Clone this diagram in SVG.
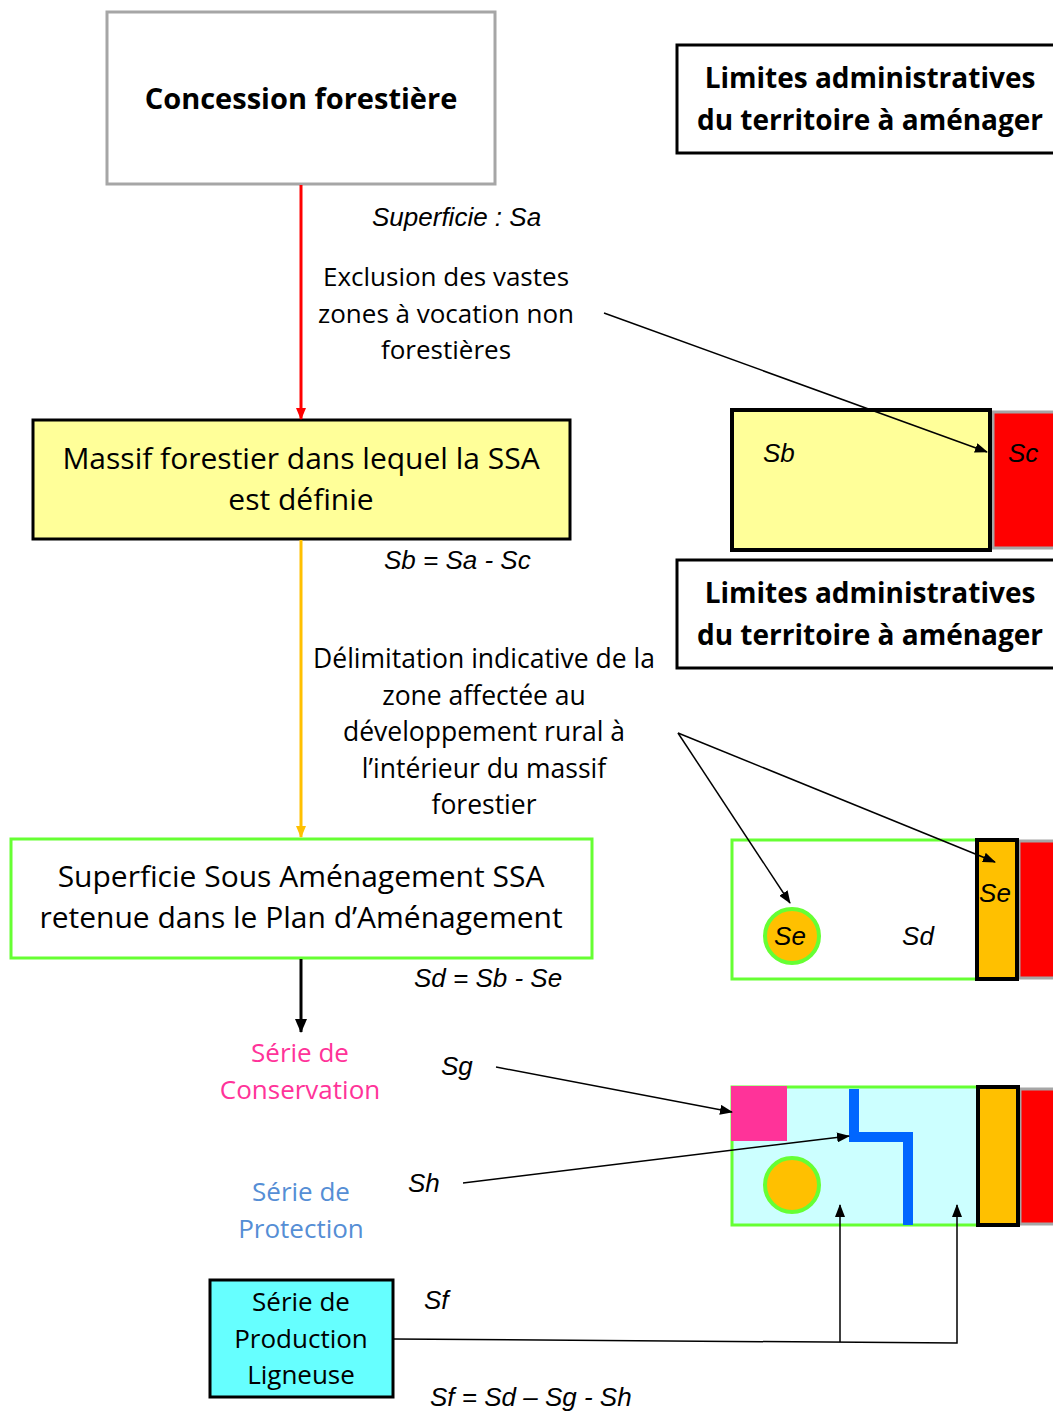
<svg xmlns="http://www.w3.org/2000/svg" width="1053" height="1411" viewBox="0 0 1053 1411">
<defs>
<style>
.t{font-family:"Open Sans","Noto Sans",sans-serif;text-anchor:middle;fill:#000}
.b{font-weight:bold}
.i{font-family:"Liberation Sans",Arial,sans-serif;font-style:italic;font-size:26px;fill:#000}
.ln{stroke:#000;stroke-width:1.5;fill:none}
</style>
<marker id="ah" markerWidth="13" markerHeight="10" refX="12" refY="5" orient="auto" markerUnits="userSpaceOnUse"><path d="M0,0 L13,5 L0,10 z" fill="#000"/></marker>
<marker id="ar" markerWidth="12" markerHeight="10" refX="11" refY="5" orient="auto" markerUnits="userSpaceOnUse"><path d="M0,0 L12,5 L0,10 z" fill="#FF0000"/></marker>
<marker id="ao" markerWidth="12" markerHeight="10" refX="11" refY="5" orient="auto" markerUnits="userSpaceOnUse"><path d="M0,0 L12,5 L0,10 z" fill="#FFC000"/></marker>
<marker id="ab" markerWidth="14" markerHeight="12" refX="13" refY="6" orient="auto" markerUnits="userSpaceOnUse"><path d="M0,0 L14,6 L0,12 z" fill="#000"/></marker>
</defs>

<g id="concession">
<rect x="107" y="12" width="388" height="172" fill="#fff" stroke="#A6A6A6" stroke-width="3"/>
<text class="t b" x="301" y="109" font-size="29">Concession forestière</text>
</g>

<g id="limites1">
<rect x="677" y="45" width="380" height="108" fill="#fff" stroke="#000" stroke-width="3"/>
<text class="t b" x="870" y="88" font-size="28">Limites administratives</text>
<text class="t b" x="870" y="130" font-size="28">du territoire à aménager</text>
</g>

<g id="label-exclusion">
<text class="i" x="372" y="226">Superficie : Sa</text>
<text class="t" x="446" y="286" font-size="26">Exclusion des vastes</text>
<text class="t" x="446" y="323" font-size="26">zones à vocation non</text>
<text class="t" x="446" y="359" font-size="26">forestières</text>
</g>

<g id="massif">
<rect x="33" y="420" width="537" height="119" fill="#FFFF99" stroke="#000" stroke-width="3"/>
<text class="t" x="301" y="469" font-size="30">Massif forestier dans lequel la SSA</text>
<text class="t" x="301" y="510" font-size="30">est définie</text>
</g>

<g id="panel-sb">
<rect x="993" y="412" width="64" height="136" fill="#FF0000" stroke="#A6A6A6" stroke-width="3"/>
<rect x="732" y="410" width="258" height="140" fill="#FFFF99" stroke="#000" stroke-width="4"/>
<text class="i" x="763" y="462">Sb</text>
<text class="i" x="1008" y="462">Sc</text>
</g>

<text class="i" x="384" y="569">Sb = Sa - Sc</text>

<g id="limites2">
<rect x="677" y="560" width="380" height="108" fill="#fff" stroke="#000" stroke-width="3"/>
<text class="t b" x="870" y="603" font-size="28">Limites administratives</text>
<text class="t b" x="870" y="645" font-size="28">du territoire à aménager</text>
</g>

<g id="label-delimitation">
<text class="t" x="484" y="668" font-size="26.5">Délimitation indicative de la</text>
<text class="t" x="484" y="705" font-size="26.5">zone affectée  au</text>
<text class="t" x="484" y="741" font-size="26.5">développement  rural à</text>
<text class="t" x="484" y="778" font-size="26.5">l’intérieur du massif</text>
<text class="t" x="484" y="814" font-size="26.5">forestier</text>
</g>

<g id="ssa">
<rect x="11" y="839" width="581" height="119" fill="#fff" stroke="#66FF33" stroke-width="3"/>
<text class="t" x="301" y="887" font-size="30">Superficie Sous Aménagement SSA</text>
<text class="t" x="301" y="928" font-size="30">retenue dans le Plan d’Aménagement</text>
</g>

<g id="panel-sd">
<rect x="1019" y="841" width="38" height="137" fill="#FF0000" stroke="#A6A6A6" stroke-width="3"/>
<rect x="732" y="840" width="245" height="139" fill="#fff" stroke="#66FF33" stroke-width="3"/>
<rect x="977" y="840" width="40" height="139" fill="#FFC000" stroke="#000" stroke-width="4"/>
<circle cx="792" cy="936" r="27" fill="#FFC000" stroke="#66FF33" stroke-width="4"/>
<text class="i" x="790" y="945" text-anchor="middle">Se</text>
<text class="i" x="918" y="945" text-anchor="middle">Sd</text>
<text class="i" x="995" y="902" text-anchor="middle">Se</text>
</g>

<text class="i" x="414" y="987">Sd = Sb - Se</text>

<g id="conservation">
<text class="t" x="300" y="1062" font-size="26" style="fill:#FF3399">Série de</text>
<text class="t" x="300" y="1099" font-size="26" style="fill:#FF3399">Conservation</text>
</g>
<text class="i" x="441" y="1075">Sg</text>

<g id="protection">
<text class="t" x="301" y="1201" font-size="26" style="fill:#558ED5">Série de</text>
<text class="t" x="301" y="1238" font-size="26" style="fill:#558ED5">Protection</text>
</g>
<text class="i" x="408" y="1192">Sh</text>

<g id="panel-series">
<rect x="1020" y="1089" width="37" height="135" fill="#FF0000" stroke="#A6A6A6" stroke-width="3"/>
<rect x="732" y="1087" width="246" height="138" fill="#CCFFFF" stroke="#66FF33" stroke-width="3"/>
<rect x="731" y="1086" width="56" height="55" fill="#FF3399"/>
<polyline points="854,1089 854,1137 908,1137 908,1225" fill="none" stroke="#0066FF" stroke-width="10"/>
<circle cx="792" cy="1185" r="27" fill="#FFC000" stroke="#66FF33" stroke-width="4"/>
<rect x="978" y="1087" width="40" height="138" fill="#FFC000" stroke="#000" stroke-width="4"/>
</g>

<g id="production">
<rect x="210" y="1280" width="183" height="117" fill="#66FFFF" stroke="#000" stroke-width="3"/>
<text class="t" x="301" y="1311" font-size="26">Série de</text>
<text class="t" x="301" y="1348" font-size="26">Production</text>
<text class="t" x="301" y="1384" font-size="26">Ligneuse</text>
</g>
<text class="i" x="424" y="1309">Sf</text>
<text class="i" x="430" y="1406">Sf = Sd – Sg - Sh</text>

<g id="connectors">
<line x1="301" y1="185" x2="301" y2="419" stroke="#FF0000" stroke-width="3" marker-end="url(#ar)"/>
<line x1="301" y1="540" x2="301" y2="837" stroke="#FFC000" stroke-width="3" marker-end="url(#ao)"/>
<line x1="301" y1="959" x2="301" y2="1032" stroke="#000" stroke-width="3" marker-end="url(#ab)"/>
<line class="ln" x1="604" y1="313" x2="987" y2="452" marker-end="url(#ah)"/>
<line class="ln" x1="678" y1="733" x2="790" y2="903" marker-end="url(#ah)"/>
<line class="ln" x1="678" y1="733" x2="995" y2="862" marker-end="url(#ah)"/>
<line class="ln" x1="496" y1="1067" x2="732" y2="1112" marker-end="url(#ah)"/>
<line class="ln" x1="463" y1="1183" x2="849" y2="1136" marker-end="url(#ah)"/>
<polyline class="ln" points="393,1339 957,1343 957,1205" marker-end="url(#ah)"/>
<line class="ln" x1="840" y1="1342" x2="840" y2="1205" marker-end="url(#ah)"/>
</g>
</svg>
